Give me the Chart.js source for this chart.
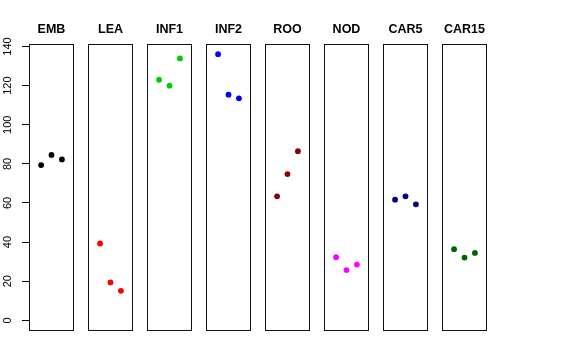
<!DOCTYPE html>
<html><head><meta charset="utf-8">
<script src="https://cdn.jsdelivr.net/npm/chart.js@4/dist/chart.umd.min.js"></script>
<style>
html,body{margin:0;padding:0;background:#fff;width:576px;height:360px;overflow:hidden}
canvas{position:absolute;top:0}
</style></head><body>
<script>
// ---- data ----
const categories = ["EMB","LEA","INF1","INF2","ROO","NOD","CAR5","CAR15"];
const replicates = [1, 2, 3];
const embValues   = [79.4, 84.6, 82.3];
const leaValues   = [39.3, 19.4, 15.1];
const inf1Values  = [123.0, 120.0, 133.9];
const inf2Values  = [136.1, 115.4, 113.5];
const rooValues   = [63.4, 74.8, 86.5];
const nodValues   = [32.3, 25.7, 28.5];
const car5Values  = [61.7, 63.4, 59.3];
const car15Values = [36.4, 32.1, 34.5];
const yTickLabels = [0, 20, 40, 60, 80, 100, 120, 140];

const seriesValues = [embValues, leaValues, inf1Values, inf2Values, rooValues, nodValues, car5Values, car15Values];
const seriesColors = ["#000000","#FF0000","#00CD00","#0000FF","#8B0000","#FF00FF","#000080","#006400"];

// ---- layout ----
const yMin = -5.44, yMax = 141.54;
const xMin = -0.16, xMax = 4.16;
const panelLeft = 29, panelStep = 59, panelWidth = 45, axisWidth = 29;
const areaTop = 43.5, canvasHeight = 332;

const boxTitlePlugin = {
  id: 'boxTitle',
  afterDraw(chart, args, opts) {
    const {ctx, chartArea: a} = chart;
    ctx.save();
    ctx.strokeStyle = '#111';
    ctx.lineWidth = 1;
    ctx.strokeRect(a.left + 0.5, Math.round(a.top) + 0.5, a.right - a.left - 1, Math.round(a.bottom) - Math.round(a.top) - 1);
    ctx.fillStyle = '#000';
    ctx.font = 'bold 12.5px "Liberation Sans", Arial, sans-serif';
    ctx.textAlign = 'center';
    ctx.textBaseline = 'middle';
    ctx.fillText(opts.text, (a.left + a.right) / 2, 30);
    ctx.restore();
  }
};

categories.forEach((cat, i) => {
  const first = i === 0;
  const cv = document.createElement('canvas');
  const w = panelWidth + 1 + (first ? axisWidth : 0);
  cv.width = w; cv.height = canvasHeight;
  cv.style.width = w + 'px'; cv.style.height = canvasHeight + 'px';
  cv.style.left = (panelLeft + i * panelStep - (first ? axisWidth : 0)) + 'px';
  document.body.appendChild(cv);

  new Chart(cv, {
    type: 'scatter',
    data: {
      datasets: [{
        data: replicates.map((x, j) => ({x: x, y: seriesValues[i][j]})),
        backgroundColor: seriesColors[i],
        borderWidth: 0,
        pointRadius: 2.9,
        pointHoverRadius: 2.9
      }]
    },
    options: {
      responsive: false,
      animation: false,
      events: [],
      devicePixelRatio: 1,
      layout: {autoPadding: false, padding: {top: areaTop, right: 1, bottom: 1, left: 0}},
      plugins: {
        legend: {display: false},
        tooltip: {enabled: false},
        title: {display: false},
        boxTitle: {text: cat}
      },
      scales: {
        x: {type: 'linear', min: xMin, max: xMax, display: false},
        y: {
          type: 'linear', min: yMin, max: yMax,
          display: first,
          afterFit(s) {
            if (first) { s.width = axisWidth; }
            s.paddingTop = 0; s.paddingBottom = 0; s.paddingLeft = 0; s.paddingRight = 0;
          },
          afterBuildTicks(s) { s.ticks = yTickLabels.map(v => ({value: v})); },
          grid: {drawOnChartArea: false, drawTicks: true, tickLength: 7, color: '#000', lineWidth: 1},
          border: {display: false},
          ticks: {
            minRotation: 90, maxRotation: 90, crossAlign: 'center', padding: 5,
            color: '#000',
            font: {family: '"Liberation Sans", Arial, sans-serif', size: 11}
          }
        }
      }
    },
    plugins: [boxTitlePlugin]
  });
});
</script>
</body></html>
